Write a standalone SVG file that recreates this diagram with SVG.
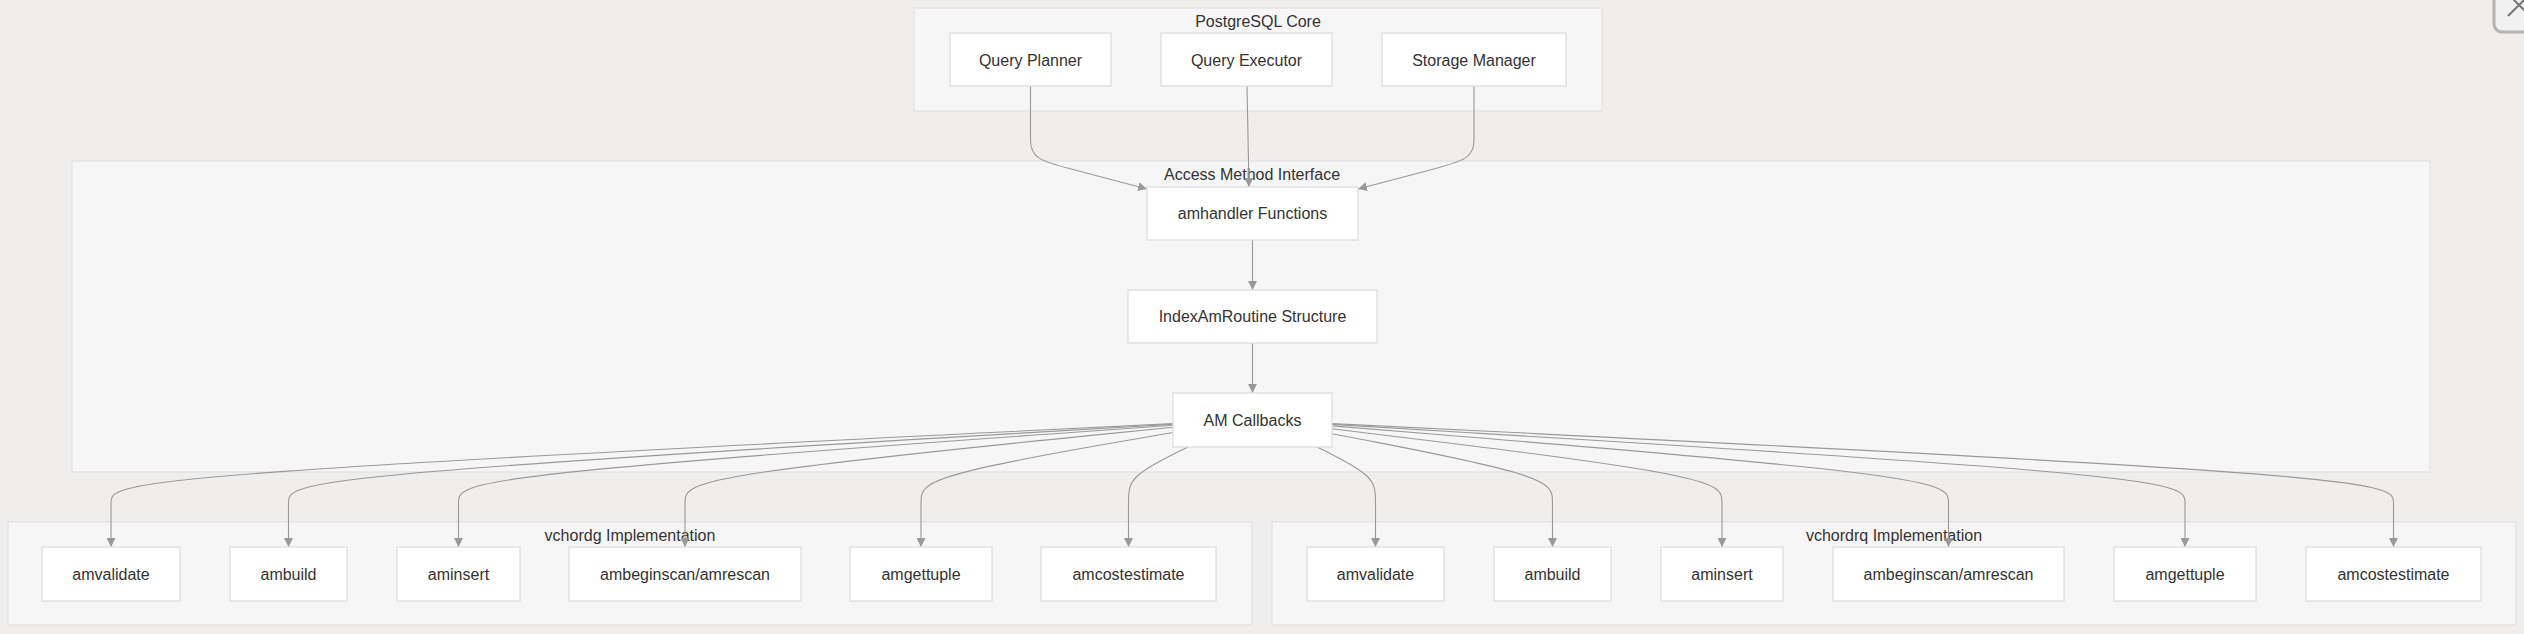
<svg xmlns="http://www.w3.org/2000/svg" width="2524" height="634" viewBox="0 0 2524 634">
<defs>
<style>
.bg{fill:#efeeed}
.cluster rect{fill:#f6f6f6;stroke:#e2e2e2;stroke-width:1.3}
.cluster text{font-family:"Liberation Sans",Arial,sans-serif;font-size:16px;fill:#333;text-anchor:middle;dominant-baseline:central}
.node rect{fill:#ffffff;stroke:#dedede;stroke-width:1.3}
.node text{font-family:"Liberation Sans",Arial,sans-serif;font-size:16px;fill:#333;text-anchor:middle;dominant-baseline:central}
.edges path{fill:none;stroke:#999;stroke-width:1.1}
</style>
<marker id="arrow" viewBox="0 0 10 10" refX="10" refY="5" markerWidth="9" markerHeight="9" markerUnits="userSpaceOnUse" orient="auto">
<path d="M0,0 L10,5 L0,10 z" fill="#999"/>
</marker>
</defs>
<rect class="bg" x="0" y="0" width="2524" height="634"/>

<g id="cluster-core" class="cluster">
<rect x="914" y="8" width="688" height="103"/>
<text x="1258" y="21">PostgreSQL Core</text>
</g>
<g id="cluster-ami" class="cluster">
<rect x="72" y="161" width="2358" height="311"/>
<text x="1252" y="174">Access Method Interface</text>
</g>
<g id="cluster-vchordg" class="cluster">
<rect x="8" y="522" width="1244" height="103"/>
<text x="630" y="535.5">vchordg Implementation</text>
</g>
<g id="cluster-vchordrq" class="cluster">
<rect x="1272" y="522" width="1244" height="103"/>
<text x="1894" y="535.5">vchordrq Implementation</text>
</g>

<g id="edges" class="edges">
<path d="M1030.5,86 L1030.5,140 C1030.5,158 1040,161 1075,170 L1147,189" marker-end="url(#arrow)"/>
<path d="M1247,86 L1249,187" marker-end="url(#arrow)"/>
<path d="M1474,86 L1474,140 C1474,158 1464,161 1430,170 L1358,189" marker-end="url(#arrow)"/>
<path d="M1252.5,240 L1252.5,290" marker-end="url(#arrow)"/>
<path d="M1252.5,343 L1252.5,393" marker-end="url(#arrow)"/>

<path d="M1173,423.6 L996,432.3 C819,441.1 465,458.5 288,471.1 C111,483.7 111,491.3 111,503.2 L111,547" marker-end="url(#arrow)"/>
<path d="M1173,424.3 L1025.6,432.9 C878.2,441.5 583.3,458.8 435.9,471.2 C288.5,483.7 288.5,491.3 288.5,503.2 L288.5,547" marker-end="url(#arrow)"/>
<path d="M1173,425.2 L1053.9,433.7 C934.8,442.1 696.7,459.1 577.6,471.4 C458.5,483.7 458.5,491.3 458.5,503.2 L458.5,547" marker-end="url(#arrow)"/>
<path d="M1173,427.3 L1091.7,435.4 C1010.3,443.5 847.7,459.8 766.3,471.7 C685,483.7 685,491.3 685,503.2 L685,547" marker-end="url(#arrow)"/>
<path d="M1173,432.5 L1131,439.8 C1089,447 1005,461.5 963,472.6 C921,483.7 921,491.3 921,503.2 L921,547" marker-end="url(#arrow)"/>
<path d="M1188,447 L1178.1,451.8 C1168.2,456.7 1148.3,466.3 1138.4,475 C1128.5,483.7 1128.5,491.3 1128.5,503.2 L1128.5,547" marker-end="url(#arrow)"/>

<path d="M1317,447 L1326.8,451.8 C1336.5,456.7 1356,466.3 1365.8,475 C1375.5,483.7 1375.5,491.3 1375.5,503.2 L1375.5,547" marker-end="url(#arrow)"/>
<path d="M1332,433.8 L1368.8,440.8 C1405.5,447.9 1479,461.9 1515.8,472.8 C1552.5,483.7 1552.5,491.3 1552.5,503.2 L1552.5,547" marker-end="url(#arrow)"/>
<path d="M1332,428.8 L1397,436.7 C1462,444.5 1592,460.3 1657,472 C1722,483.7 1722,491.3 1722,503.2 L1722,547" marker-end="url(#arrow)"/>
<path d="M1332,425.9 L1434.8,434.3 C1537.5,442.6 1743,459.3 1845.8,471.5 C1948.5,483.7 1948.5,491.3 1948.5,503.2 L1948.5,547" marker-end="url(#arrow)"/>
<path d="M1332,424.4 L1474.2,433 C1616.3,441.6 1900.7,458.8 2042.8,471.2 C2185,483.7 2185,491.3 2185,503.2 L2185,547" marker-end="url(#arrow)"/>
<path d="M1332,423.6 L1508.9,432.3 C1685.8,441.1 2039.7,458.5 2216.6,471.1 C2393.5,483.7 2393.5,491.3 2393.5,503.2 L2393.5,547" marker-end="url(#arrow)"/>
</g>

<g id="node-query-planner" class="node">
<rect x="950" y="33" width="161" height="53"/>
<text x="1030.5" y="60">Query Planner</text>
</g>
<g id="node-query-executor" class="node">
<rect x="1161" y="33" width="171" height="53"/>
<text x="1246.5" y="60">Query Executor</text>
</g>
<g id="node-storage-manager" class="node">
<rect x="1382" y="33" width="184" height="53"/>
<text x="1474" y="60">Storage Manager</text>
</g>
<g id="node-amhandler" class="node">
<rect x="1147" y="187" width="211" height="53"/>
<text x="1252.5" y="213.5">amhandler Functions</text>
</g>
<g id="node-indexamroutine" class="node">
<rect x="1128" y="290" width="249" height="53"/>
<text x="1252.5" y="316.5">IndexAmRoutine Structure</text>
</g>
<g id="node-am-callbacks" class="node">
<rect x="1173" y="393" width="159" height="54"/>
<text x="1252.5" y="420">AM Callbacks</text>
</g>

<g id="node-g-amvalidate" class="node">
<rect x="42" y="547" width="138" height="54"/>
<text x="111" y="574">amvalidate</text>
</g>
<g id="node-g-ambuild" class="node">
<rect x="230" y="547" width="117" height="54"/>
<text x="288.5" y="574">ambuild</text>
</g>
<g id="node-g-aminsert" class="node">
<rect x="397" y="547" width="123" height="54"/>
<text x="458.5" y="574">aminsert</text>
</g>
<g id="node-g-ambeginscan" class="node">
<rect x="569" y="547" width="232" height="54"/>
<text x="685" y="574">ambeginscan/amrescan</text>
</g>
<g id="node-g-amgettuple" class="node">
<rect x="850" y="547" width="142" height="54"/>
<text x="921" y="574">amgettuple</text>
</g>
<g id="node-g-amcostestimate" class="node">
<rect x="1041" y="547" width="175" height="54"/>
<text x="1128.5" y="574">amcostestimate</text>
</g>

<g id="node-q-amvalidate" class="node">
<rect x="1307" y="547" width="137" height="54"/>
<text x="1375.5" y="574">amvalidate</text>
</g>
<g id="node-q-ambuild" class="node">
<rect x="1494" y="547" width="117" height="54"/>
<text x="1552.5" y="574">ambuild</text>
</g>
<g id="node-q-aminsert" class="node">
<rect x="1661" y="547" width="122" height="54"/>
<text x="1722" y="574">aminsert</text>
</g>
<g id="node-q-ambeginscan" class="node">
<rect x="1833" y="547" width="231" height="54"/>
<text x="1948.5" y="574">ambeginscan/amrescan</text>
</g>
<g id="node-q-amgettuple" class="node">
<rect x="2114" y="547" width="142" height="54"/>
<text x="2185" y="574">amgettuple</text>
</g>
<g id="node-q-amcostestimate" class="node">
<rect x="2306" y="547" width="175" height="54"/>
<text x="2393.5" y="574">amcostestimate</text>
</g>

<g id="close-button">
<rect x="2494" y="-12" width="44" height="44" rx="8" fill="#f1f1f1" stroke="#b4b4b4" stroke-width="3"/>
<path d="M2508,16 L2530,-6 M2508,-6 L2530,16" stroke="#777" stroke-width="2" fill="none"/>
</g>
</svg>
